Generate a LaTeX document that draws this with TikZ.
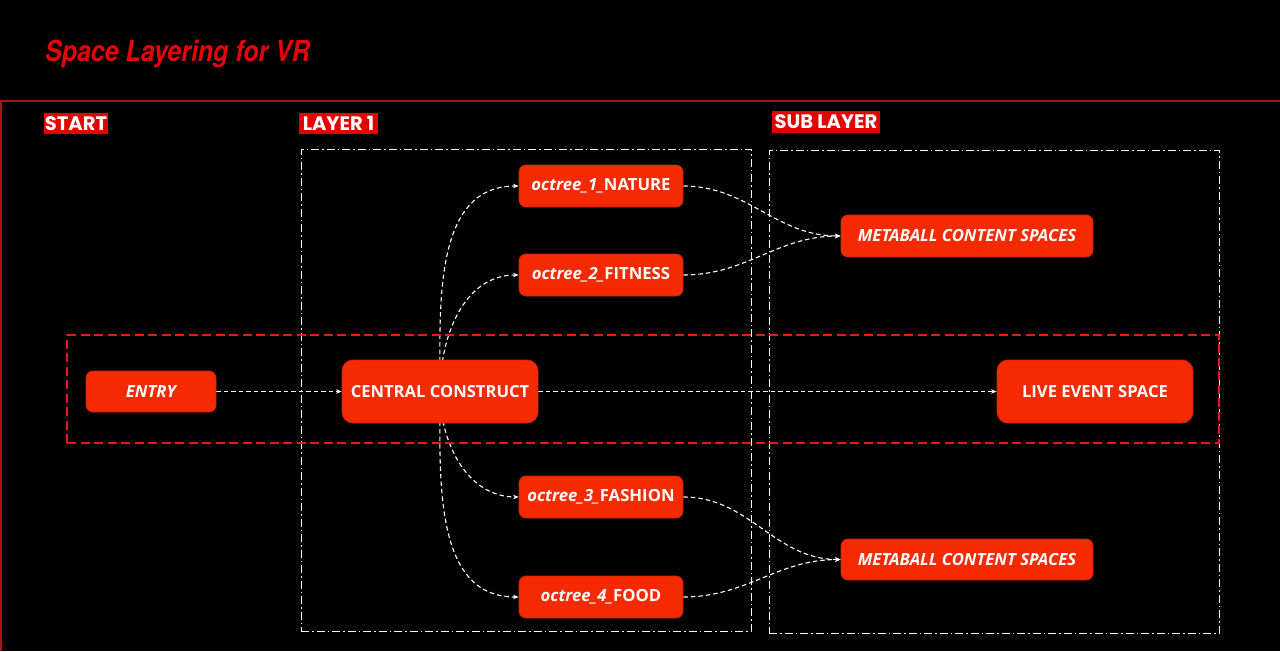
\documentclass[tikz,border=0pt]{standalone}
\usepackage{fontspec}
\setmainfont{Open Sans}
\newfontfamily\titlefont{TeX Gyre Heros}
\newfontfamily\labfont{Poppins}
\usetikzlibrary{arrows.meta,backgrounds}
\definecolor{nodefill}{RGB}{245,42,0}
\definecolor{nodeedge}{RGB}{200,40,10}
\definecolor{labred}{RGB}{226,0,0}
\definecolor{titlered}{RGB}{232,0,10}
\definecolor{framered}{RGB}{170,20,20}
\definecolor{dashred}{RGB}{228,28,20}
\definecolor{frameyel}{RGB}{255,255,215}
\tikzset{
  box/.style={draw=nodeedge,line width=0.8pt,fill=nodefill,rounded corners=7pt,text=white,font=\bfseries\fontsize{16.7}{18}\selectfont,inner sep=0pt,align=center},
  bigbox/.style={box,rounded corners=11pt,font=\bfseries\fontsize{16.6}{18}\selectfont,minimum width=196pt,minimum height=63pt},
  octbox/.style={box,minimum width=164pt,minimum height=42pt},
  metabox/.style={box,minimum width=252pt,minimum height=42pt},
  itbox/.style={font=\bfseries\itshape\fontsize{16.7}{18}\selectfont},
  lab/.style={fill=labred,text=white,font=\labfont\bfseries\fontsize{19.5}{21}\selectfont,inner xsep=1pt,inner ysep=0pt,minimum height=21pt},
  frm/.style={draw=frameyel,line width=0.9pt,dash pattern=on 8pt off 3pt on 1.5pt off 3pt},
  conn/.style={draw=white,line width=1.1pt,dash pattern=on 4.5pt off 3pt,-{Stealth[length=5.5pt,width=4.5pt]}}
}
\begin{document}
\begin{tikzpicture}[x=1pt,y=-1pt]
\useasboundingbox (0,0) rectangle (1280,651);
% title
\node[anchor=west,text=titlered,inner sep=0pt] (title) at (45,54)
  {\scalebox{0.86}[1]{\titlefont\bfseries\itshape\fontsize{29}{32}\selectfont Space Layering for VR}};
% red frame
\coordinate (fa) at (0,101);
\coordinate (fb) at (1280,101);
\coordinate (fc) at (1,651);
\draw[framered,line width=1.3pt] (fb) -- (fa) ++(1,0) -- (fc);
% section labels
\node[lab,minimum width=62pt] (start) at (76,123.5) {START};
\node[lab,minimum width=79pt] (layer1) at (338.5,123.5) {LAYER 1};
\node[lab,minimum width=108pt,minimum height=22pt] (sublayer) at (826,122) {SUB LAYER};
% frames
\node[frm,minimum width=450pt,minimum height=482pt,inner sep=0pt] (f1) at (526,390) {};
\node[frm,minimum width=450pt,minimum height=483pt,inner sep=0pt] (f2) at (994,391.5) {};
\node[draw=dashred,line width=2.6pt,dash pattern=on 9pt off 4.5pt,minimum width=1152pt,minimum height=108pt,inner sep=0pt] (band) at (643,389) {};
% nodes
\node[box,itbox,minimum width=130pt,minimum height=41pt] (entry) at (151,391.5) {ENTRY};
\node[bigbox] (central) at (440,391.5) {CENTRAL CONSTRUCT};
\node[bigbox] (live) at (1095,391.5) {LIVE EVENT SPACE};
\node[octbox] (o1) at (601,186) {\textit{octree\_1\_}NATURE};
\node[octbox] (o2) at (601,275) {\textit{octree\_2\_}FITNESS};
\node[octbox] (o3) at (601,497) {\textit{octree\_3\_}FASHION};
\node[octbox] (o4) at (601,597) {\textit{octree\_4\_}FOOD};
\node[metabox,itbox] (m1) at (967,236) {METABALL CONTENT SPACES};
\node[metabox,itbox,minimum height=41pt] (m2) at (967,559.5) {METABALL CONTENT SPACES};
% connectors
\begin{pgfonlayer}{background}
\fill[black] (0,0) rectangle (1280,651);
\draw[conn] (entry) -- (central);
\draw[conn] (central) -- (live);
\draw[conn] (central.center) to[out=90,in=180] (o1.west);
\draw[conn] (central.center) to[out=90,in=180] (o2.west);
\draw[conn] (central.center) to[out=-90,in=180] (o3.west);
\draw[conn] (central.center) to[out=-90,in=180] (o4.west);
\draw[conn] (o1.east) to[out=0,in=180] (m1.west);
\draw[conn] (o2.east) to[out=0,in=180] (m1.west);
\draw[conn] (o3.east) to[out=0,in=180] (m2.west);
\draw[conn] (o4.east) to[out=0,in=180] (m2.west);
\end{pgfonlayer}
\end{tikzpicture}
\end{document}
